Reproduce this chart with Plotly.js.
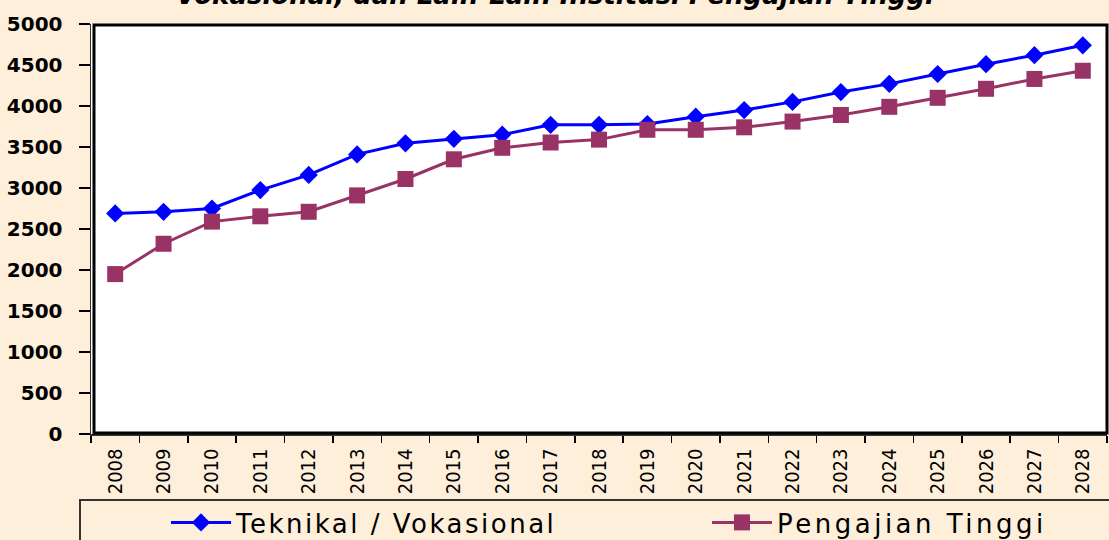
<!DOCTYPE html>
<html>
<head>
<meta charset="utf-8">
<script src="https://cdn.plot.ly/plotly-3.0.1.min.js"></script>
<style>
html,body{margin:0;padding:0;background:#FDEFDA;}
#chart{width:1109px;height:540px;}
</style>
</head>
<body>
<div id="chart"></div>
<script>
const years = ["2008","2009","2010","2011","2012","2013","2014","2015","2016","2017","2018","2019","2020","2021","2022","2023","2024","2025","2026","2027","2028"];
const teknikal = [2690, 2710, 2750, 2975, 3160, 3410, 3545, 3600, 3650, 3770, 3770, 3780, 3870, 3950, 4050, 4170, 4270, 4390, 4510, 4620, 4740];
const pengajian = [1950, 2320, 2590, 2655, 2710, 2910, 3110, 3350, 3490, 3555, 3590, 3710, 3710, 3740, 3810, 3890, 3990, 4100, 4210, 4330, 4430];
const seriesNames = ["Teknikal / Vokasional", "Pengajian Tinggi"];
const titleText = "Vokasional, dan Lain-Lain Institusi Pengajian Tinggi";

const W = 1109, H = 540;
const L = 91, R = 2, T = 24, B = 106;
const pw = W - L - R, ph = H - T - B;
const px = x => (x - L) / pw;
const py = y => (H - B - y) / ph;

const traces = [
  {x: years, y: teknikal, name: seriesNames[0], type: 'scatter', mode: 'lines+markers', legend: 'legend',
   line: {color: '#0000FF', width: 3}, marker: {symbol: 'diamond', size: 14, color: '#0000FF'}},
  {x: years, y: pengajian, name: seriesNames[1], type: 'scatter', mode: 'lines+markers', legend: 'legend2',
   line: {color: '#993366', width: 3}, marker: {symbol: 'square', size: 16, color: '#993366'}}
];

const legendFont = {family: 'DejaVu Sans, sans-serif', size: 26, color: '#000'};
const layout = {
  width: W, height: H,
  margin: {l: L, r: R, t: T, b: B, pad: 0, autoexpand: false},
  paper_bgcolor: '#FDEFDA',
  plot_bgcolor: '#FFFFFF',
  showlegend: true,
  xaxis: {
    type: 'category', range: [-0.5, 20.5], showgrid: false, zeroline: false,
    showline: true, linecolor: '#333', linewidth: 1.5,
    ticks: 'outside', tickson: 'boundaries', ticklen: 7, tickwidth: 1.5, tickcolor: '#000',
    tickangle: -90, ticklabelstandoff: 5, automargin: false,
    tickfont: {family: 'Liberation Sans Narrow, DejaVu Sans Condensed, sans-serif', size: 20, color: '#000'}
  },
  yaxis: {
    range: [0, 5000], dtick: 500, tick0: 0, showgrid: false, zeroline: false,
    showline: true, linecolor: '#333', linewidth: 1.5, automargin: false,
    ticks: 'outside', ticklen: 11, tickwidth: 1.5, tickcolor: '#000', ticklabelstandoff: 12,
    tickfont: {family: 'DejaVu Sans, sans-serif', size: 20, color: '#000', weight: 'bold'}
  },
  legend: {
    orientation: 'h', x: px(166), xanchor: 'left', y: py(499), yanchor: 'top',
    bgcolor: 'rgba(0,0,0,0)', borderwidth: 0, itemwidth: 60, font: legendFont
  },
  legend2: {
    orientation: 'h', x: px(707), xanchor: 'left', y: py(499), yanchor: 'top',
    bgcolor: 'rgba(0,0,0,0)', borderwidth: 0, itemwidth: 60, font: legendFont
  },
  shapes: [
    {type: 'rect', xref: 'paper', yref: 'paper', x0: px(94), x1: px(1107), y0: py(433), y1: py(25),
     line: {color: '#000', width: 3}, fillcolor: 'rgba(0,0,0,0)', layer: 'above'},
    {type: 'rect', xref: 'paper', yref: 'paper', x0: px(80), x1: px(1130), y0: py(500), y1: py(560),
     line: {color: '#333', width: 2}, fillcolor: 'rgba(0,0,0,0)', layer: 'above'}
  ],
  annotations: [
    {text: titleText, xref: 'paper', yref: 'paper', x: px(555), y: py(-5), xanchor: 'center', yanchor: 'middle',
     showarrow: false, font: {family: 'DejaVu Sans, sans-serif', size: 26, color: '#000', weight: 'bold', style: 'italic'}}
  ]
};

const spacing = {legend: '2.5px', legend2: '3.5px'};
Plotly.newPlot('chart', traces, layout, {displayModeBar: false, staticPlot: true}).then(gd => {
  Object.keys(spacing).forEach(id => {
    gd.querySelectorAll('.infolayer g.' + id).forEach(g => {
      g.querySelectorAll('text').forEach(t => { t.style.letterSpacing = spacing[id]; });
      g.querySelectorAll('[clip-path]').forEach(e => e.removeAttribute('clip-path'));
    });
  });
});
</script>
</body>
</html>
